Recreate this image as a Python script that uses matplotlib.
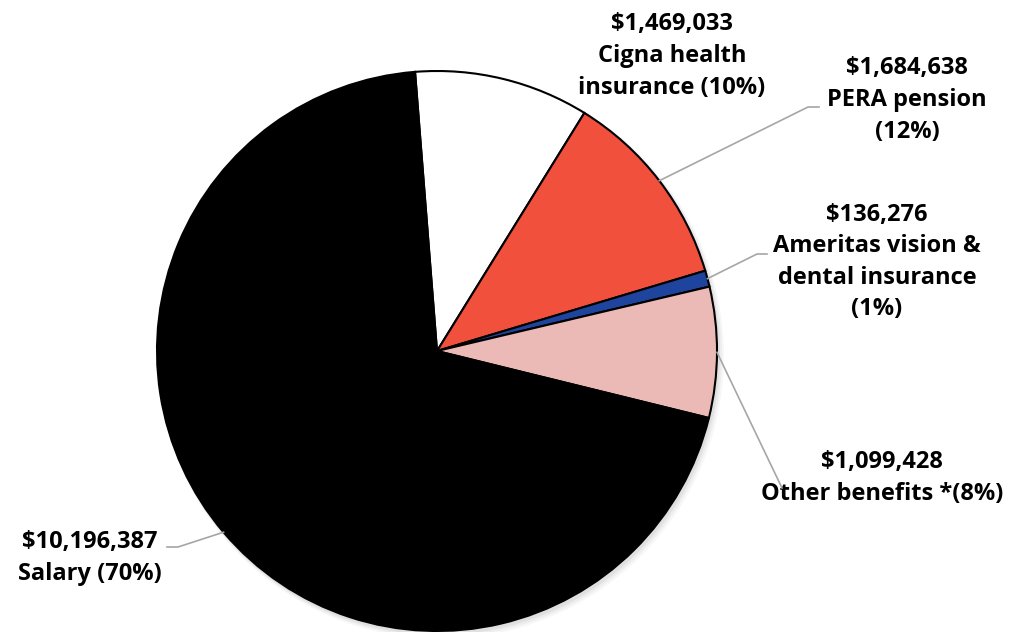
import numpy as np
import matplotlib
matplotlib.use("Agg")
import matplotlib.pyplot as plt

categories = ["Cigna health insurance", "PERA pension", "Ameritas vision & dental insurance",
              "Other benefits", "Salary"]
values = [1469033, 1684638, 136276, 1099428, 10196387]
label_texts = [
    "$1,469,033\nCigna health\ninsurance (10%)",
    "$1,684,638\nPERA pension\n(12%)",
    "$136,276\nAmeritas vision &\ndental insurance\n(1%)",
    "$1,099,428\nOther benefits *(8%)",
    "$10,196,387\nSalary (70%)",
]
colors = ["#FFFFFF", "#F0503C", "#1F449E", "#ECBAB6", "#000000"]

W, H = 1010, 632
fig = plt.figure(figsize=(W / 100, H / 100), dpi=100)
ax = fig.add_axes([0, 0, 1, 1])

cx, cy, R = 437, H - 351, 280

# subtle shadow
for i, a in enumerate([0.05, 0.04, 0.03]):
    sh = plt.Circle((cx + 2 + i, cy - 3 - i), R + 1 + i, color="black", alpha=a, lw=0, zorder=0)
    ax.add_patch(sh)

wedges, _ = ax.pie(values, colors=colors, startangle=94.5, counterclock=False,
                   center=(cx, cy), radius=R, frame=True,
                   wedgeprops=dict(edgecolor="black", linewidth=1.5))
ax.set_xlim(0, W)
ax.set_ylim(0, H)
ax.set_aspect("equal")
ax.axis("off")

font = dict(family=["Open Sans", "DejaVu Sans"], fontweight="bold", fontsize=17,
            color="black", linespacing=1.42)

# label positions (pixel coords, top-origin) and leader elbow points
label_pos = [(672, 56), (907, 100), (877, 262), (882, 478), (90, 558)]
elbows = [None, [(808, 107), (819, 107)], [(757, 254), (767, 254)], [(782, 488)],
          [(178, 547), (167, 547)]]

for w, txt, (lx, ly), el in zip(wedges, label_texts, label_pos, elbows):
    ax.text(lx, H - ly, txt, ha="center", va="center", multialignment="center", **font)
    if el is None:
        continue
    mid = np.deg2rad((w.theta1 + w.theta2) / 2)
    sx, sy = cx + R * np.cos(mid), cy + R * np.sin(mid)
    xs = [sx] + [p[0] for p in el]
    ys = [sy] + [H - p[1] for p in el]
    ax.plot(xs, ys, color="#A6A6A6", lw=1.2, zorder=5)

fig.savefig("out.png", dpi=100, facecolor="white")
